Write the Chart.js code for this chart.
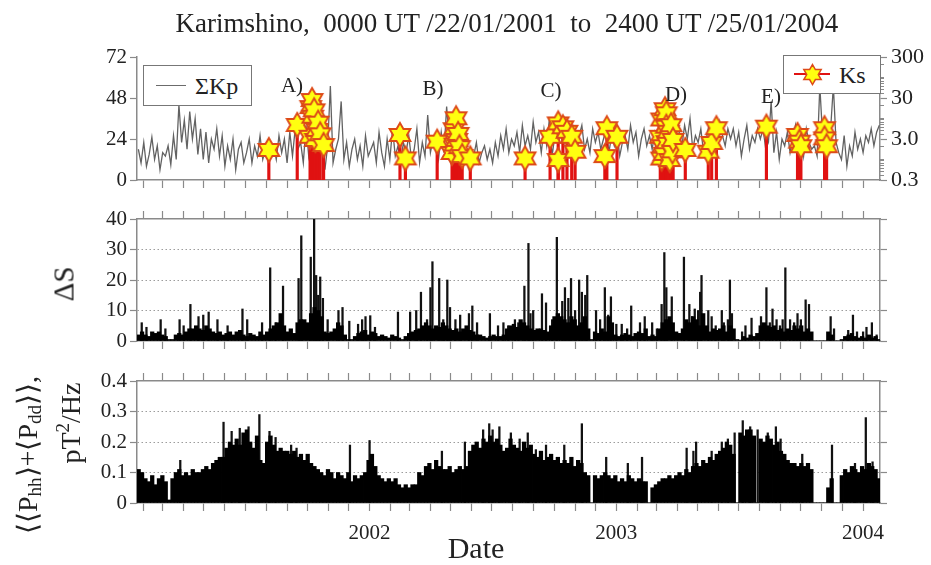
<!DOCTYPE html>
<html><head><meta charset="utf-8">
<script src="https://cdn.jsdelivr.net/npm/chart.js@4.4.1/dist/chart.umd.min.js"></script>
<style>
html,body{margin:0;padding:0;background:#fff;}
#wrap{position:relative;width:931px;height:565px;overflow:hidden;font-family:"Liberation Serif","Times New Roman",serif;color:#222;background:#fff;}
canvas{position:absolute;left:0;}
.t{position:absolute;white-space:pre;line-height:1;}
.c{transform:translate(-50%,-50%);}
.r{transform:translate(-50%,-50%) rotate(-90deg);}
sub{font-size:68%;vertical-align:-0.25em;}
sup{font-size:68%;vertical-align:0.55em;}
</style></head><body>
<div id="wrap">
<canvas id="c1" width="931" height="200" style="top:0;width:931px;height:200px"></canvas>
<canvas id="c2" width="931" height="160" style="top:200px;width:931px;height:160px"></canvas>
<canvas id="c3" width="931" height="205" style="top:360px;width:931px;height:205px"></canvas>

<div class="t c" style="left:507px;top:23px;font-size:27px">Karimshino,  0000 UT /22/01/2001  to  2400 UT /25/01/2004</div>

<div style="position:absolute;left:143px;top:65px;width:107px;height:39px;border:1px solid #777;background:#fff;">
  <div style="position:absolute;left:12px;top:19px;width:30px;height:0;border-top:1.5px solid #6b6b6b"></div>
  <div class="t" style="left:51px;top:8px;font-size:24px">ΣKp</div>
</div>
<div style="position:absolute;left:783px;top:55px;width:96px;height:37px;border:1px solid #777;background:#fff;">
  <div id="ksIcon" style="position:absolute;left:8px;top:3px;width:40px;height:30px"></div>
  <div class="t" style="left:55px;top:7px;font-size:24px">Ks</div>
</div>

<div class="t c" style="left:292px;top:85px;font-size:21px">A)</div>
<div class="t c" style="left:433px;top:88px;font-size:21px">B)</div>
<div class="t c" style="left:551px;top:90px;font-size:21px">C)</div>
<div class="t c" style="left:676px;top:94px;font-size:21px">D)</div>
<div class="t c" style="left:771px;top:96px;font-size:21px">E)</div>

<div class="t r" style="left:64px;top:284px;font-size:29px">ΔS</div>
<div class="t r" style="left:29px;top:455px;font-size:28px">⟨⟨P<sub>hh</sub>⟩+⟨P<sub>dd</sub>⟩⟩,</div>
<div class="t r" style="left:69px;top:423px;font-size:28px">pT<sup>2</sup>/Hz</div>
<div class="t c" style="left:476px;top:548px;font-size:30px">Date</div>
</div>

<script>
// ---------------- DATA ----------------
const START = [2001, 0, 22];          // 0000 UT 22/01/2001
const TOTAL_DAYS = 1099;              // to 2400 UT 25/01/2004

// ΣKp, one reading every 4 days
const kpStep = 4;
const kpSum = [
 18,10,22,8,15,25,12,20,6,16,
 14,20,9,26,12,44,22,35,18,40,
 24,36,15,30,12,28,10,24,18,30,
 14,26,8,20,12,24,6,18,22,10,
 16,24,10,20,14,26,12,18,22,14,
 20,12,26,16,24,10,28,14,30,18,
 22,10,32,14,24,8,20,12,26,6,
 20,55,10,18,24,46,12,22,8,18,
 24,12,20,8,26,14,18,22,10,28,
 16,8,24,12,30,14,20,10,22,16,
 26,12,18,30,10,22,14,38,16,24,
 20,12,28,16,43,22,10,26,14,20,
 12,24,8,18,14,22,10,16,20,12,
 18,10,22,14,26,18,30,16,24,20,
 28,16,32,20,26,18,34,22,28,16,
 30,20,36,14,26,22,38,18,28,24,
 20,30,14,26,32,18,24,16,30,22,
 28,18,24,30,16,26,20,28,14,22,
 26,18,32,22,28,14,24,30,20,26,
 18,28,22,32,16,26,20,30,24,18,
 28,20,32,24,36,18,26,22,30,16,
 24,32,18,28,22,34,26,20,30,24,
 30,20,28,14,24,32,18,26,22,30,
 24,30,18,22,46,16,28,12,24,20,
 28,16,24,32,18,26,14,30,22,18,
 20,14,55,26,18,24,30,55,22,16,
 12,26,8,20,14,28,18,24,16,26,
 22,30,20,28,32
];

// Ks events (day since start, value on the right log axis)
const ksDay = [195,237,256,257,259,260,262,264,266,268,271,276,
 389,397,444,466,469,470,472,473,475,477,481,493,
 574,611,623,623,630,636,643,648,692,695,710,
 774,776,776,778,780,781,783,783,784,786,788,790,792,793,811,
 845,850,857,931,977,980,982,1017,1017,1020];
const ks = [1.62,6.6,3.4,18,26.8,10.5,15,2.84,5.0,7.5,3.9,2.14,
 3.76,1.01,2.58,1.37,5.2,2.2,9.6,2.85,4.0,1.9,1.15,1.01,
 1.01,3.4,7.2,0.92,5.8,4.5,3.4,1.47,1.15,5.5,3.4,
 3.4,9,1.0,2.0,1.3,16,12.7,6.0,2.5,4.5,0.92,6.5,1.5,2.85,1.62,
 1.47,2.4,5.5,6.0,3.76,2.58,2.0,5.5,3.1,2.0];

// ΔS, 5-day level
const binDays = 5;
const dS = [
 2,3,2,1.5,3,2.5,3,2,1.5,0.5,
 0.5,2,2.5,2,3,4,
 4,5,4,3.5,5,4,3,2.5,3,2,2.5,3,2,3,3.5,
 2,1.5,2.5,2,1.5,3,2,
 3,4,5,6,9,5,
 3,4,2.5,6,
 7,7,6,9,
 11,10,8,
 3,2.5,3,
 4,6,5,2,
 0.5,0.5,1.5,
 2.5,3,3.5,2,3,2.5,1.5,2,
 1.5,1,2,1.5,1,0.5,1.5,
 2.5,3,3.5,4,5,6,5,
 4,5,4.5,6,5,4,3.5,4,
 3,4,5,3.5,3,2,2,
 1.5,1,1.5,2,1.5,1.5,2,
 4,5,5.5,4.5,7,6,5,
 4,3.5,4,4,
 3.5,3,5,
 8,9,8,7,6,8,7,5,6,8,
 4,0.5,
 3,2.5,4,3,8,6,
 2,1.5,2,2.5,2,1.5,2.5,3,
 2.5,4,1.5,2,1.5,
 4,6,7,8,6,3,
 2.5,4,7,6,8,
 7,5,9,5,3,
 4,3.5,4,5,3,5,4,
 0.5,0.3,
 1.5,1,2,1.5,
 2.5,5,6,5,4.5,5,3.5,4,
 3,4,3.5,5,4,5,3,4,3,
 0,0,0,0,
 3,2,
 0,0,
 0.5,1.5,2,2.5,1.5,1,1.5,1,2,1,1.5,0.5
];
// ΔS single-day peaks
const dSPeakDay = [7,14,35,42,63,69,79,91,98,106,119,134,156,163,185,197,205,216,239,243,257,262,265,268,271,275,282,298,304,314,327,333,338,345,352,
 386,404,413,420,429,434,437,447,453,459,463,471,478,491,496,503,522,534,542,549,559,564,573,579,582,586,599,605,614,621,629,633,638,642,648,654,658,663,666,679,685,692,697,701,709,717,725,
 731,744,751,762,769,776,780,783,791,809,817,821,825,830,833,835,845,850,856,865,868,874,877,880,895,900,909,923,931,936,940,946,951,955,959,966,972,977,982,989,994,1026,1031,1052,1059,1065,1074,1079,1087,1094];
const dSPeak = [6,4.5,7,4,7,5,12,8,8.5,9.5,7,5,10.5,7,6,24,6,18,20.5,34.5,27.5,40,21.5,15,21,14,7,10,11,6.5,5.5,7,8,8.3,4.5,
 9.5,9.5,10,16,7,17.5,26,20.5,7,20,11,7,8.5,9,11.5,6,9,5,6,5,7,6,18,32,9,10,15.5,12.5,7,34,13,17.5,14,20.5,10,20,16,15,21.5,10,7,17.5,8.5,14.5,5.5,5.5,4,
 11.5,6,8,6,4,12,29,17.5,14.5,27.5,12,8,10.5,10,16,21.5,10,8,5,10,6,7,20,9,3,5,7.5,8,17.5,6,10.5,7,5,7,24,7,6,9,7,13.5,12,8,4,3.5,8.5,3,3,4.5,6,2];

// <<Phh>+<Pdd>>, 5-day level (pT^2/Hz)
const power = [
 0.11,0.10,0.08,0.07,0.09,0.06,0.08,0.09,0.07,
 0.01,
 0.08,0.10,0.11,0.09,0.10,0.09,0.11,0.10,0.10,
 0.11,0.12,0.11,0.13,0.14,0.15,0.15,
 0.18,0.20,0.19,0.21,0.19,0.23,
 0.24,0.20,0.18,0.22,0.14,
 0.13,0.20,0.22,0.19,0.17,0.18,0.17,
 0.17,0.16,0.17,0.15,0.16,0.14,0.16,0.13,0.12,0.11,
 0.10,0.09,0.11,0.10,0.08,0.10,0.09,0.08,0.10,0.07,0.09,0.08,0.09,0.10,
 0.14,0.16,0.12,0.09,
 0.08,0.07,0.08,0.07,0.08,0.06,
 0.05,0.06,0.05,0.06,0.06,
 0.10,0.09,0.12,0.13,0.11,0.14,0.12,0.11,
 0.11,0.12,0.10,0.11,0.12,0.11,
 0.12,0.17,0.19,0.20,0.18,0.21,
 0.20,0.22,0.20,0.21,0.19,0.17,
 0.18,0.21,0.19,0.18,0.17,0.20,0.18,0.19,
 0.16,0.15,0.17,0.14,0.15,0.16,0.14,0.15,0.13,
 0.14,0.13,0.15,0.12,0.14,0.13,0.10,0.09,
 0,
 0.09,0.08,0.09,0.10,0.09,0.08,0.09,0.07,0.08,0.07,0.09,0.08,0.07,0.08,0.07,0.07,
 0,
 0.05,0.06,0.07,0.08,0.08,0.09,0.08,0.09,0.10,0.09,0.11,
 0.10,0.12,0.13,0.12,0.14,0.13,0.15,0.14,0.16,0.17,0.18,0.20,0.19,0.16,
 0,
 0.23,0.22,0.24,0.24,0.22,
 0,
 0.21,0.20,0.22,0.21,0.19,0.20,
 0.17,0.16,0.14,0.13,0.13,0.12,0.13,0.12,0.13,0.11,
 0,0,0,0,
 0.05,0.08,
 0,0,
 0.09,0.11,0.10,0.12,0.11,0.10,0.12,0.11,0.13,0.12,0.11,0.08
];
const powerPeakDay = [64,128,140,152,165,181,196,205,228,236,315,344,451,485,512,521,526,536,553,566,578,590,605,632,658,694,726,747,813,823,827,850,865,874,884,896,907,918,933,945,952,984,1028,1062,1078,1088];
const powerPeak = [0.14,0.265,0.235,0.245,0.25,0.29,0.235,0.215,0.19,0.18,0.19,0.205,0.17,0.20,0.24,0.26,0.24,0.25,0.23,0.21,0.23,0.175,0.19,0.19,0.26,0.15,0.13,0.15,0.18,0.17,0.20,0.17,0.20,0.21,0.23,0.27,0.25,0.24,0.23,0.25,0.21,0.16,0.19,0.13,0.28,0.135];

// Axis ticks
const kpTicks = [0, 24, 48, 72];
const ksTicks = [0.3, 3, 30, 300];
const ksTickLabels = ['0.3', '3.0', '30', '300'];
const ksMinor = [0.4,0.5,0.6,0.7,0.8,0.9,1,2,4,5,6,7,8,9,10,20,40,50,60,70,80,90,100,200];
const dSTicks = [0, 10, 20, 30, 40];
const powerTicks = [0, 0.1, 0.2, 0.3, 0.4];

// ---------------- CHARTS ----------------
const FONT = '"Liberation Serif","Times New Roman",serif';
Chart.defaults.font.family = FONT;
Chart.defaults.color = '#222';
const AX = '#8a8a8a';
const DAY = 86400000;
const t0 = Date.UTC(START[0], START[1], START[2]);
const monthTicks = [];
for (let y = 2001; y <= 2004; y++) for (let m = 0; m < 12; m++) {
  const d = (Date.UTC(y, m, 1) - t0) / DAY;
  if (d > 0 && d <= TOTAL_DAYS) monthTicks.push(d);
}
function yearLabel(v) {
  const dt = new Date(t0 + v * DAY);
  return (dt.getUTCMonth() === 0 && dt.getUTCDate() === 1) ? String(dt.getUTCFullYear()) : '';
}
function xAxis(pos, height, labels) {
  return {
    type: 'linear', position: pos, min: 0, max: TOTAL_DAYS, offset: false,
    afterBuildTicks: s => { s.ticks = monthTicks.map(v => ({ value: v })); },
    afterFit: s => { s.height = height; },
    ticks: { autoSkip: false, maxRotation: 0, minRotation: 0, padding: 10, font: { size: 21 }, color: '#222',
      callback: v => labels ? yearLabel(v) : '' },
    grid: { offset: false, drawOnChartArea: false, drawTicks: true, tickLength: 8, tickColor: AX, tickWidth: 1.2 },
    border: { display: true, color: AX, width: 1.5 }
  };
}
function yAxis(pos, min, max, vals, fmt, width, grid) {
  return {
    type: 'linear', position: pos, min: min, max: max,
    afterBuildTicks: s => { s.ticks = vals.map(v => ({ value: v })); },
    afterFit: s => { s.width = width; },
    ticks: { autoSkip: false, padding: 3, font: { size: 21 }, color: '#222', callback: fmt },
    grid: { drawOnChartArea: !!grid, lineWidth: 1,
      color: c => (grid && c.tick && c.tick.value > min && c.tick.value < max) ? '#9c9c9c' : 'rgba(0,0,0,0)',
      drawTicks: true, tickLength: 7, tickColor: AX, tickWidth: 1.2 },
    border: { display: true, color: AX, width: 1.5, dash: grid ? [1.5, 2.5] : [] }
  };
}
function makeStar(R, fill, stroke, lw) {
  const s = Math.ceil(2 * R + 2 * lw + 2);
  const c = document.createElement('canvas'); c.width = s; c.height = s;
  const g = c.getContext('2d'); g.translate(s / 2, s / 2);
  g.beginPath();
  for (let k = 0; k < 12; k++) {
    const a = -Math.PI / 2 + k * Math.PI / 6, r = k % 2 === 0 ? R : R / Math.sqrt(3);
    g.lineTo(r * Math.cos(a), r * Math.sin(a));
  }
  g.closePath(); g.fillStyle = fill; g.fill(); g.lineWidth = lw; g.strokeStyle = stroke; g.stroke();
  return c;
}
const STAR_FILL = '#ffff10', STAR_EDGE = '#dd4a18', STEM = '#e01212';
const starImg = makeStar(12, STAR_FILL, STAR_EDGE, 1.9);
// legend icon
(function () {
  const c = document.createElement('canvas'); c.width = 40; c.height = 30;
  const g = c.getContext('2d');
  g.strokeStyle = STEM; g.lineWidth = 2; g.beginPath(); g.moveTo(2, 15); g.lineTo(38, 15); g.stroke();
  g.drawImage(makeStar(10, STAR_FILL, STAR_EDGE, 1.5), 20 - 12, 15 - 12);
  document.getElementById('ksIcon').appendChild(c);
  c.style.position = 'static';
})();

const minorTicks = {
  id: 'minorTicks',
  afterDraw(chart) {
    const s = chart.scales.y2; if (!s) return;
    const g = chart.ctx; g.save(); g.strokeStyle = AX; g.lineWidth = 1;
    ksMinor.forEach(v => {
      const y = Math.round(s.getPixelForValue(v)) + 0.5;
      g.beginPath(); g.moveTo(s.left, y); g.lineTo(s.left + 4, y); g.stroke();
    });
    g.restore();
  }
};
const common = { responsive: false, maintainAspectRatio: false, animation: false, devicePixelRatio: 1,
  plugins: { legend: { display: false }, tooltip: { enabled: false } } };

new Chart(document.getElementById('c1'), {
  type: 'line',
  data: { datasets: [
    { type: 'line', label: 'ΣKp', data: kpSum.map((v, i) => ({ x: i * kpStep + kpStep / 2, y: v })),
      xAxisID: 'x', yAxisID: 'y', borderColor: '#626262', borderWidth: 1.3, pointRadius: 0, tension: 0, order: 3 },
    { type: 'bar', label: 'Ks stem', data: ksDay.map((d, i) => ({ x: d, y: [ksTicks[0], ks[i]] })),
      xAxisID: 'x', yAxisID: 'y2', backgroundColor: STEM, barThickness: 2.5, grouped: false, order: 2 },
    { type: 'line', label: 'Ks', data: ksDay.map((d, i) => ({ x: d, y: ks[i] })),
      xAxisID: 'x', yAxisID: 'y2', showLine: false, pointStyle: starImg, pointRadius: 12, order: 1 }
  ] },
  options: Object.assign({}, common, {
    layout: { padding: { top: 57, left: 0, right: 0, bottom: 0 } },
    scales: {
      x: xAxis('bottom', 20, false),
      y: yAxis('left', 0, 72, kpTicks, v => String(v), 137, false),
      y2: {
        type: 'logarithmic', position: 'right', min: ksTicks[0], max: ksTicks[3],
        afterBuildTicks: s => { s.ticks = ksTicks.map(v => ({ value: v })); },
        afterFit: s => { s.width = 51; },
        ticks: { autoSkip: false, padding: 4, font: { size: 22 }, color: '#222',
          callback: v => { const k = ksTicks.indexOf(v); return k >= 0 ? ksTickLabels[k] : ''; } },
        grid: { drawOnChartArea: false, drawTicks: true, tickLength: 7, tickColor: AX, tickWidth: 1.2 },
        border: { display: true, color: AX, width: 1.5 }
      }
    }
  }),
  plugins: [minorTicks]
});

new Chart(document.getElementById('c2'), {
  type: 'bar',
  data: { datasets: [
    { label: 'ΔS', data: dS.map((v, i) => ({ x: i * binDays + binDays / 2, y: v })), xAxisID: 'x', yAxisID: 'y',
      backgroundColor: '#000', barThickness: 3.6, grouped: false },
    { label: 'ΔS peaks', data: dSPeakDay.map((d, i) => ({ x: d, y: dSPeak[i] })), xAxisID: 'x', yAxisID: 'y',
      backgroundColor: '#111', barThickness: 1.6, grouped: false }
  ] },
  options: Object.assign({}, common, {
    layout: { padding: 0 },
    scales: {
      x: xAxis('bottom', 19, false),
      xt: xAxis('top', 19, false),
      y: yAxis('left', 0, 40, dSTicks, v => String(v), 137, true),
      yr: yAxis('right', 0, 40, dSTicks, () => '', 51, false)
    }
  })
});

new Chart(document.getElementById('c3'), {
  type: 'bar',
  data: { datasets: [
    { label: 'P', data: power.map((v, i) => ({ x: i * binDays + binDays / 2, y: v })), xAxisID: 'x', yAxisID: 'y',
      backgroundColor: '#000', barThickness: 3.6, grouped: false },
    { label: 'P peaks', data: powerPeakDay.map((d, i) => ({ x: d, y: powerPeak[i] })), xAxisID: 'x', yAxisID: 'y',
      backgroundColor: '#111', barThickness: 1.6, grouped: false }
  ] },
  options: Object.assign({}, common, {
    layout: { padding: 0 },
    scales: {
      x: xAxis('bottom', 62, true),
      xt: xAxis('top', 21, false),
      y: yAxis('left', 0, 0.4, powerTicks, v => v === 0 ? '0' : v.toFixed(1), 137, true),
      yr: yAxis('right', 0, 0.4, powerTicks, () => '', 51, false)
    }
  })
});
</script>
</body></html>
